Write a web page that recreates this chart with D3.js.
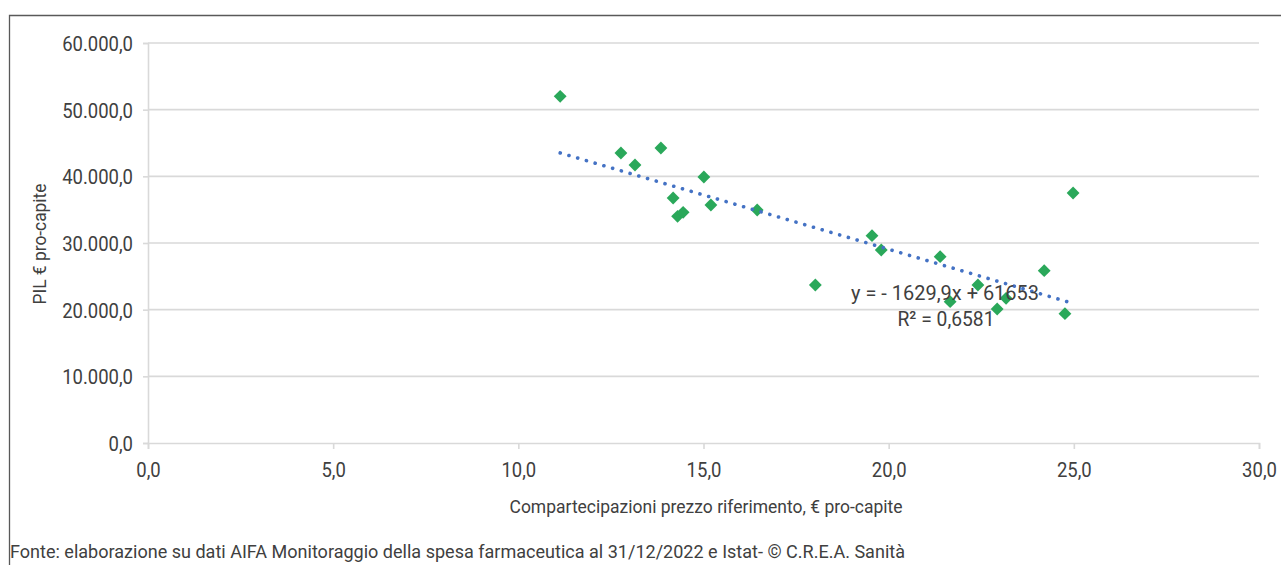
<!DOCTYPE html>
<html><head><meta charset="utf-8">
<script src="https://cdnjs.cloudflare.com/ajax/libs/d3/7.8.5/d3.min.js"></script>
<style>
html,body{margin:0;padding:0;background:#fff;}
text{font-family:Roboto,"Liberation Sans",sans-serif;font-weight:400;fill:#404040;}
</style></head>
<body><svg id="c" width="1281" height="565"></svg>
<script>
const xValues = [11.13,12.77,13.15,13.85,15.01,14.18,14.30,14.45,15.20,16.45,18.02,19.55,19.80,21.39,21.66,22.41,22.93,23.17,24.20,24.76,24.98];
const yValues = [52000,43500,41700,44250,39900,36750,34000,34600,35700,34950,23700,31100,28950,27950,21200,23700,20100,21700,25850,19400,37500];
const xTicks = [0,5,10,15,20,25,30];
const yTicks = [0,10000,20000,30000,40000,50000,60000];
const slope = -1629.9, intercept = 61653;
const eqLabel = "y = - 1629,9x + 61653";
const r2Label = "R² = 0,6581";
const xTitle = "Compartecipazioni prezzo riferimento, € pro-capite";
const yTitle = "PIL € pro-capite";
const footer = "Fonte: elaborazione su dati AIFA Monitoraggio della spesa farmaceutica al 31/12/2022 e Istat- © C.R.E.A. Sanità";

const svg = d3.select("#c");
const x = d3.scaleLinear().domain([0,30]).range([148,1259]);
const y = d3.scaleLinear().domain([0,60000]).range([443,43]);
const fmtX = d3.formatLocale({decimal:",",thousands:".",grouping:[3],currency:["€",""]}).format(",.1f");

// condense a text element to a fraction of its natural width
function condense(sel, f){
  sel.each(function(){
    const w = this.getComputedTextLength();
    d3.select(this).attr("textLength", w*f).attr("lengthAdjust","spacingAndGlyphs");
  });
}

// border
svg.append("path").attr("d","M9.5,565 L9.5,15.5 L1281,15.5").attr("fill","none").attr("stroke","#595959").attr("stroke-width",1.3);

// gridlines
svg.append("g").selectAll("line").data(yTicks.filter(d=>d>0)).join("line")
  .attr("x1",x(0)).attr("x2",x(30)).attr("y1",d=>y(d)).attr("y2",d=>y(d))
  .attr("stroke","#d9d9d9").attr("stroke-width",1.6);

// y axis
const ya = svg.append("g").attr("transform",`translate(${x(0)},0)`)
  .call(d3.axisLeft(y).tickValues(yTicks).tickSize(5).tickPadding(10).tickFormat(fmtX));
ya.select(".domain").attr("stroke","#d9d9d9").attr("stroke-width",1.6);
ya.selectAll(".tick line").attr("stroke","#d9d9d9").attr("stroke-width",1.6);
ya.selectAll("text").style("font-size","21px").style("font-family","Roboto").attr("fill","#404040").attr("dy","0.35em");
condense(ya.selectAll("text"), 0.88);

// x axis
const xa = svg.append("g").attr("transform",`translate(0,${y(0)})`)
  .call(d3.axisBottom(x).tickValues(xTicks).tickSize(6).tickPadding(12).tickFormat(fmtX));
xa.select(".domain").attr("stroke","#d9d9d9").attr("stroke-width",1.6);
xa.selectAll(".tick line").attr("stroke","#d9d9d9").attr("stroke-width",1.6);
xa.selectAll("text").style("font-size","21px").style("font-family","Roboto").attr("fill","#404040").attr("y",34).attr("dy",0);
condense(xa.selectAll("text"), 0.88);

// points
const diamond = d3.symbol().type(d3.symbolDiamond2).size(105);
svg.append("g").selectAll("path").data(xValues.map((v,i)=>[v,yValues[i]])).join("path")
  .attr("d",diamond).attr("transform",d=>`translate(${x(d[0])},${y(d[1])})`)
  .attr("fill","#2aa85a");

// trendline
const xmin = d3.min(xValues), xmax = d3.max(xValues);
svg.append("line")
  .attr("x1",x(xmin)).attr("y1",y(slope*xmin+intercept))
  .attr("x2",x(xmax)).attr("y2",y(slope*xmax+intercept))
  .attr("stroke","#4472c4").attr("stroke-width",3.6).attr("stroke-linecap","round")
  .attr("stroke-dasharray","0.1 9");

// equation labels
svg.append("text").attr("x",945).attr("y",300).attr("text-anchor","middle")
  .style("font-size","21px").attr("textLength",188).attr("lengthAdjust","spacingAndGlyphs").text(eqLabel);
svg.append("text").attr("x",946).attr("y",326).attr("text-anchor","middle")
  .style("font-size","21px").attr("textLength",97).attr("lengthAdjust","spacingAndGlyphs").text(r2Label);

// titles
svg.append("text").attr("x",706).attr("y",513).attr("text-anchor","middle")
  .style("font-size","19px").attr("textLength",393).attr("lengthAdjust","spacingAndGlyphs").text(xTitle);
svg.append("text").attr("transform","translate(46,244) rotate(-90)").attr("text-anchor","middle")
  .style("font-size","19px").attr("textLength",121).attr("lengthAdjust","spacingAndGlyphs").text(yTitle);
svg.append("text").attr("x",10).attr("y",558)
  .style("font-size","18.5px").attr("textLength",895).attr("lengthAdjust","spacingAndGlyphs").text(footer);
</script></body></html>
